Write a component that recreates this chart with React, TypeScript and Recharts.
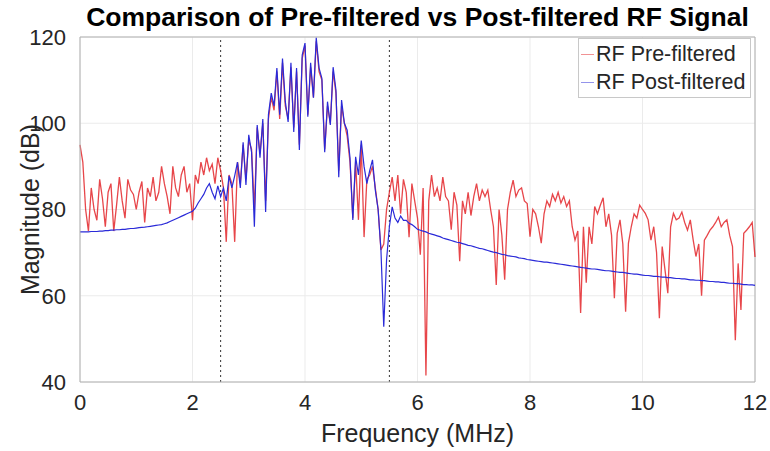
import React from "react";
import {
  LineChart,
  Line,
  XAxis,
  YAxis,
  CartesianGrid,
  ReferenceLine,
} from "recharts";

// spectrum sampled every 0.05 MHz, 0 .. 12 MHz
const FREQ_STEP = 0.05;

const preFiltered = [
  95, 91, 80, 75, 85, 80, 77.5, 87, 82.5, 76,
  84, 86, 75, 81, 87.5, 82, 78, 87, 84.5, 83.5,
  80, 84, 86.5, 77, 85, 83, 87.5, 82, 84, 90,
  86, 83, 79, 90, 85, 83, 88, 90, 84, 86,
  77.5, 88, 86, 91, 88, 92, 89, 90.5, 86, 92,
  89, 85, 72.5, 88, 86, 72.5, 91, 86, 95, 87,
  96, 94, 80, 99, 93, 100, 82, 101, 106, 103,
  112, 101, 114, 104, 101, 113, 99, 112, 95, 115,
  118, 102, 113, 106, 119, 112, 110, 94, 104, 100,
  112, 107, 89, 104, 100, 97, 91, 78, 91, 77.6,
  95, 73.6, 87, 88, 90, 85, 80, 70.6, 72, 80,
  84, 87.5, 82, 88, 79, 87, 84, 73.6, 86, 82,
  78, 69.5, 85, 41.5, 82, 88, 83, 85, 82, 87.5,
  83, 82, 75.3, 84, 81, 68, 82, 79, 84, 78.6,
  83, 86, 82, 84.5, 83, 84.5, 80, 76, 62.5, 80,
  74, 63.7, 80, 84, 86.8, 83, 84.5, 85, 82, 81.4,
  73.7, 80, 79, 76, 72.2, 79, 82, 80.7, 83.5, 82,
  84, 81.5, 83, 80.7, 82, 76, 72.9, 75, 56, 76,
  63, 76, 72, 80.7, 79, 81, 82.7, 76, 79, 74,
  59.4, 74.5, 77.6, 72, 56.3, 72.2, 76, 79, 78, 81,
  80, 79.1, 77.6, 72.9, 76, 70, 54.8, 71.4, 66, 60.6,
  76, 79.1, 77.6, 78, 79.4, 77, 75.2, 77.6, 73, 69.1,
  72, 60, 72.9, 74, 75.2, 76, 77, 78.2, 76, 77,
  77.6, 74, 71.4, 49.7, 67.5, 56.7, 74.5, 75.2, 76, 77,
  69,
];

const postFiltered = [
  74.8, 74.8, 74.8, 74.8, 74.9, 74.9, 74.9, 75.0, 75.0, 75.1,
  75.1, 75.2, 75.2, 75.3, 75.3, 75.4, 75.4, 75.5, 75.6, 75.6,
  75.7, 75.8, 75.85, 75.9, 76.0, 76.1, 76.2, 76.3, 76.4, 76.5,
  76.7, 76.9, 77.2, 77.5, 77.8, 78.1, 78.4, 78.7, 79.0, 79.3,
  79.6, 80.3, 81.5, 82.5, 83.5, 85, 86, 84, 82.5, 85.5,
  83, 85, 82, 87.8, 85, 87.8, 91, 85, 95.6, 85.7,
  97.3, 93.3, 76, 99.6, 92, 101, 79.4, 102, 107, 104,
  112.8, 102, 115, 105, 100.3, 114, 98, 112.8, 93.8, 115.8,
  118.6, 101.5, 114, 105.9, 119.8, 112.8, 110.4, 93.3, 105, 99.6,
  113, 107.7, 87.5, 105.4, 100, 98.4, 92, 77.6, 92.2, 88,
  96, 90, 86, 89, 91.5, 84.5, 80, 70.6, 52.8, 68.3,
  76, 80.6, 78, 77, 78.5, 77.5, 77.5, 76.8, 76.5, 76,
  75.4, 75.2, 75.0, 74.8, 74.5, 74.3, 74.1, 73.9, 73.7, 73.4,
  73.2, 73.0, 72.8, 72.6, 72.4, 72.3, 72.1, 71.9, 71.7, 71.6,
  71.4, 71.2, 71.0, 70.9, 70.7, 70.5, 70.3, 70.1, 70.0, 69.8,
  69.6, 69.5, 69.3, 69.2, 69.1, 69.0, 68.8, 68.7, 68.6, 68.4,
  68.3, 68.2, 68.1, 68.0, 67.9, 67.8, 67.8, 67.7, 67.6, 67.5,
  67.4, 67.3, 67.2, 67.1, 67.0, 66.9, 66.8, 66.7, 66.6, 66.5,
  66.4, 66.3, 66.2, 66.2, 66.1, 66.0, 65.9, 65.8, 65.8, 65.7,
  65.6, 65.5, 65.4, 65.4, 65.3, 65.2, 65.1, 65.0, 65.0, 64.9,
  64.8, 64.7, 64.7, 64.6, 64.5, 64.5, 64.4, 64.3, 64.3, 64.2,
  64.2, 64.1, 64.0, 64.0, 63.9, 63.9, 63.8, 63.7, 63.7, 63.6,
  63.6, 63.5, 63.5, 63.4, 63.3, 63.3, 63.2, 63.2, 63.1, 63.1,
  63.0, 62.9, 62.9, 62.8, 62.8, 62.7, 62.6, 62.6, 62.5, 62.5,
  62.4,
];

const xTicks = [0, 2, 4, 6, 8, 10, 12];
const yTicks = [40, 60, 80, 100, 120];
const passBand = [2.5, 5.5];

const RED = "#e3262a";
const BLUE = "#2a2ad8";
const FONT = "'Liberation Sans', Arial, Helvetica, sans-serif";

const data = preFiltered.map((v, i) => ({
  freq: +(i * FREQ_STEP).toFixed(2),
  pre: v,
  post: postFiltered[i],
}));

const legendItems = [
  { label: "RF Pre-filtered", color: RED },
  { label: "RF Post-filtered", color: BLUE },
];

// boxed legend in the upper-right corner of the axes
function LegendBox() {
  return (
    <div
      style={{
        position: "absolute",
        left: 578,
        top: 38,
        width: 173,
        height: 60,
        boxSizing: "border-box",
        border: "1px solid #c8c8c8",
        background: "#fff",
        padding: "1px 0 0 2px",
        fontFamily: FONT,
        fontSize: 21.5,
        color: "#262626",
        lineHeight: "28px",
        whiteSpace: "nowrap",
      }}
    >
      {legendItems.map((it) => (
        <div key={it.label} style={{ display: "flex", alignItems: "center" }}>
          <span
            style={{
              display: "inline-block",
              width: 13,
              height: 0,
              borderTop: `1.5px solid ${it.color}`,
              opacity: 0.5,
              marginRight: 2,
            }}
          />
          {it.label}
        </div>
      ))}
    </div>
  );
}

export default function App() {
  return (
    <div style={{ position: "absolute", left: 0, top: 0, width: 770, height: 451, background: "#fff" }}>
      <div
        style={{
          position: "absolute",
          left: 80,
          top: 2,
          width: 675,
          textAlign: "center",
          fontFamily: FONT,
          fontWeight: "bold",
          fontSize: 26.5,
          color: "#000",
          whiteSpace: "nowrap",
        }}
      >
        Comparison of Pre-filtered vs Post-filtered RF Signal
      </div>
      <LineChart
        width={770}
        height={451}
        data={data}
        margin={{ top: 37, right: 15, bottom: 0, left: 0 }}
        style={{ fontFamily: FONT }}
      >
        <CartesianGrid stroke="#ebebeb" strokeWidth={1} />
        <XAxis
          dataKey="freq"
          type="number"
          domain={[0, 12]}
          ticks={xTicks}
          height={69}
          tickLine={false}
          axisLine={{ stroke: "#b0b0b0" }}
          tick={{ fill: "#262626", fontSize: 22 }}
          tickMargin={6}
          label={({ viewBox }: any) => (
            <text
              x={viewBox.x + viewBox.width / 2}
              y={viewBox.y + 60}
              textAnchor="middle"
              fill="#262626"
              fontSize={25}
              fontFamily={FONT}
            >
              Frequency (MHz)
            </text>
          )}
        />
        <YAxis
          type="number"
          domain={[40, 120]}
          ticks={yTicks}
          width={80}
          tickLine={false}
          axisLine={{ stroke: "#b0b0b0" }}
          tick={{ fill: "#262626", fontSize: 22 }}
          tickMargin={8}
          label={({ viewBox }: any) => {
            const cx = 30;
            const cy = viewBox.y + viewBox.height / 2;
            return (
              <text
                x={cx}
                y={cy}
                transform={`rotate(-90 ${cx} ${cy})`}
                textAnchor="middle"
                dominantBaseline="central"
                fill="#262626"
                fontSize={25}
                fontFamily={FONT}
              >
                Magnitude (dB)
              </text>
            );
          }}
        />
        <ReferenceLine y={120} stroke="#b0b0b0" />
        <ReferenceLine x={12} stroke="#b0b0b0" />
        {passBand.map((f) => (
          <ReferenceLine key={f} x={f} stroke="#333" strokeDasharray="2 3" strokeWidth={1} />
        ))}
        <Line
          type="linear"
          dataKey="pre"
          name="RF Pre-filtered"
          stroke={RED}
          strokeWidth={1.3}
          strokeOpacity={0.85}
          dot={false}
          isAnimationActive={false}
        />
        <Line
          type="linear"
          dataKey="post"
          name="RF Post-filtered"
          stroke={BLUE}
          strokeWidth={1.2}
          dot={false}
          isAnimationActive={false}
        />
      </LineChart>
      <LegendBox />
    </div>
  );
}
